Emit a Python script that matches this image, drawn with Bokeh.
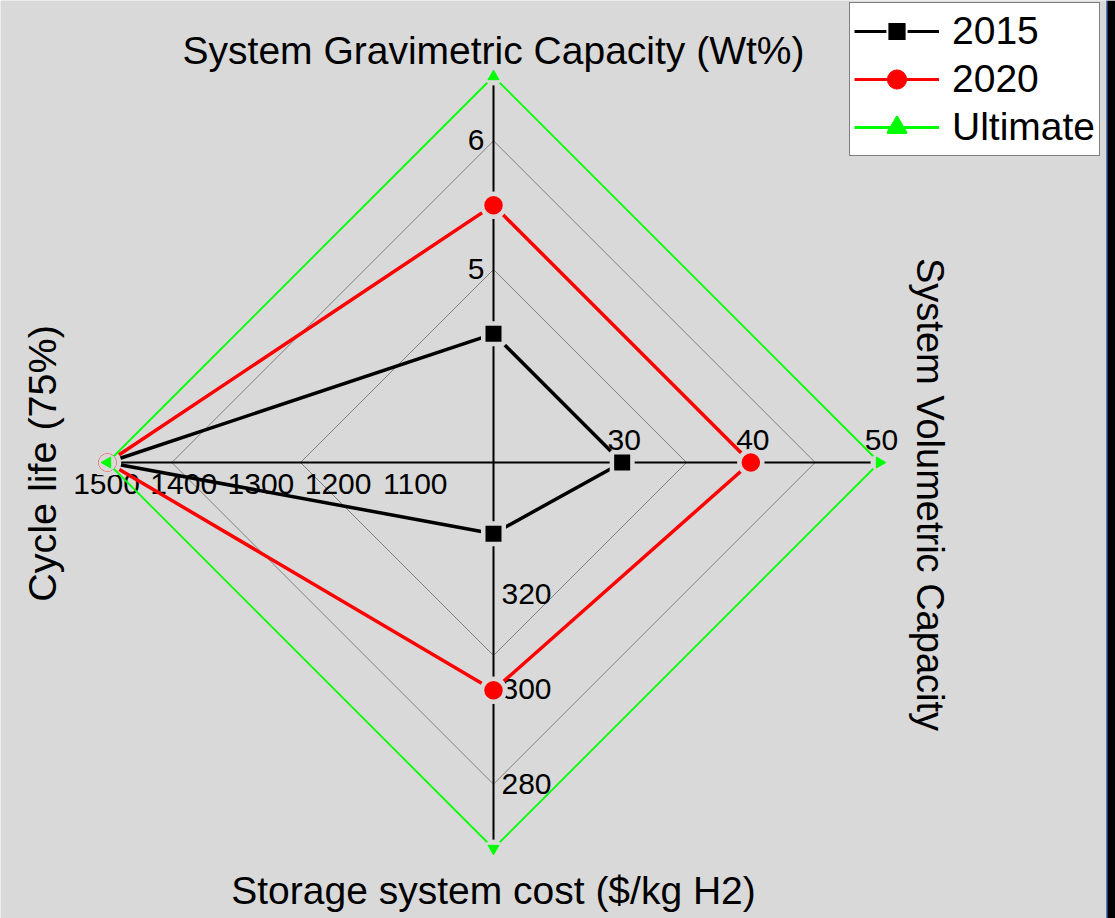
import numpy as np
from bokeh.plotting import figure
from bokeh.models import Range1d, Label, Legend, LegendItem, ColumnDataSource, BoxAnnotation
from bokeh.core.properties import value
from bokeh.embed import file_html
from bokeh.resources import INLINE

# ---------------- data ----------------
axis_titles = ["System Gravimetric Capacity (Wt%)", "System Volumetric Capacity",
               "Storage system cost ($/kg H2)", "Cycle life (75%)"]
axis_start = [3.5, 20, 348, 1000]        # value at the centre of each spoke
axis_end = [6.5, 50, 266.67, 1500]       # value at the rim of each spoke
axis_ticks = [[5, 6], [30, 40, 50], [320, 300, 280], [1100, 1200, 1300, 1400, 1500]]

series_names = ["2015", "2020", "Ultimate"]
values_2015 = [4.5, 30, 333, 1500]
values_2020 = [5.5, 40, 300, 1500]
values_ultimate = [6.5, 50, 266.67, 1500]

# ---------------- layout / style ----------------
W, H = 1115, 918
CX, CY = 493, 462          # centre of the radar in page pixels
R = 386                    # spoke length in pixels
BG = "#D9D9D9"
FONT = "Liberation Sans"
spoke_angles = [np.pi / 2, 0.0, -np.pi / 2, np.pi]

def radius(i, v):
    return (v - axis_start[i]) / (axis_end[i] - axis_start[i]) * R

def to_xy(vals):
    xs, ys = [], []
    for i, v in enumerate(vals):
        r = radius(i, v)
        xs.append(r * np.cos(spoke_angles[i]))
        ys.append(r * np.sin(spoke_angles[i]))
    return xs, ys

p = figure(width=W, height=H, output_backend="svg", toolbar_location=None,
           x_range=Range1d(-CX, W - CX), y_range=Range1d(-(H - CY), CY),
           min_border=0, outline_line_color=None)
p.axis.visible = False
p.grid.visible = False
p.background_fill_color = BG
p.border_fill_color = BG

# grid rings at the ticks of the first spoke
for t in axis_ticks[0]:
    frac = (t - axis_start[0]) / (axis_end[0] - axis_start[0])
    xs = [frac * R * np.cos(a) for a in spoke_angles] + [frac * R * np.cos(spoke_angles[0])]
    ys = [frac * R * np.sin(a) for a in spoke_angles] + [frac * R * np.sin(spoke_angles[0])]
    p.line(xs, ys, line_color="#808080", line_width=1)

# spokes
p.segment(x0=[0] * 4, y0=[0] * 4,
          x1=[R * np.cos(a) for a in spoke_angles], y1=[R * np.sin(a) for a in spoke_angles],
          line_color="black", line_width=2)

# tick labels
tx, ty, tt, ta, tb = [], [], [], [], []
for i, ticks in enumerate(axis_ticks):
    for t in ticks:
        r = radius(i, t)
        if i == 0:
            tx.append(-9); ty.append(r + 1); ta.append("right"); tb.append("middle")
        elif i == 1:
            tx.append(r + 2); ty.append(13); ta.append("center"); tb.append("bottom")
        elif i == 2:
            tx.append(8); ty.append(-r + 1); ta.append("left"); tb.append("middle")
        else:
            tx.append(-r - 1); ty.append(-11); ta.append("center"); tb.append("top")
        tt.append(str(t))
p.text(x=tx, y=ty, text=tt, text_align=ta, text_baseline=tb,
       text_font=value(FONT), text_font_size="30px", text_color="black")

# series
styles = [
    dict(color="black", marker="square", size=20.5, lw=3.5, halo=4.5, halo_size=None,
         leg_size=None, leg_line="white", leg_lw=2),
    dict(color="#FF0000", marker="circle", size=23, lw=3.5, halo=4.5, halo_size=None,
         leg_size=None, leg_line="#FF0000", leg_lw=1),
    dict(color="#00FF00", marker="triangle", size=11, lw=1.8, halo=0, halo_size=18,
         leg_size=None, leg_line="#00FF00", leg_lw=2),
]
legend_items = []
for name, vals, st in zip(series_names, [values_2015, values_2020, values_ultimate], styles):
    xs, ys = to_xy(vals)
    p.line(xs + [xs[0]], ys + [ys[0]], line_color=st["color"], line_width=st["lw"])
    ang = [a - np.pi / 2 for a in spoke_angles]
    src = ColumnDataSource(dict(x=xs, y=ys, ang=ang))
    if st["halo_size"]:
        # background coloured disc that opens a gap in the lines around the marker
        p.scatter("x", "y", source=src, marker="circle", size=st["halo_size"],
                  fill_color=BG, line_color=None)
        p.scatter("x", "y", source=src, marker=st["marker"], size=st["size"], angle="ang",
                  fill_color=st["color"], line_color=st["color"], line_width=1)
    else:
        p.scatter("x", "y", source=src, marker=st["marker"], size=st["size"], angle="ang",
                  fill_color=st["color"], line_color=BG, line_width=st["halo"])
    # legend proxies (nothing drawn in the plot)
    proxy = ColumnDataSource(dict(x=[np.nan], y=[np.nan]))
    lr = p.line("x", "y", source=proxy, line_color=st["color"], line_width=3)
    sr = p.scatter("x", "y", source=proxy, marker=st["marker"], size=20,
                   fill_color=st["color"], line_color=st["leg_line"], line_width=st["leg_lw"])
    legend_items.append(LegendItem(label=name, renderers=[lr, sr]))

legend = Legend(items=legend_items, location=(849, H - 156),
                glyph_width=85, glyph_height=48, label_height=48, spacing=0, padding=4,
                margin=0, label_standoff=13,
                label_text_font=FONT, label_text_font_size="39px", label_text_color="black",
                background_fill_color="white", background_fill_alpha=1,
                border_line_color="black", border_line_width=1)
p.add_layout(legend, "center")

# axis titles
title_pos = [(0, 412, 0, "39px"), (436, -32, -np.pi / 2, "38px"),
             (0, -428, 0, "39px"), (-452, -1, np.pi / 2, "39.5px")]
for txt, (x, y, a, fs) in zip(axis_titles, title_pos):
    p.add_layout(Label(x=x, y=y, text=txt, angle=a, text_align="center", text_baseline="middle",
                       text_font=FONT, text_font_size=fs, text_color="black"))

# dark window edge at the right of the picture
p.add_layout(BoxAnnotation(left=W - 9, right=W, left_units="screen", right_units="screen",
                           fill_color="black", fill_alpha=1, line_color=None))
p.add_layout(BoxAnnotation(left=W - 9.5, right=W - 8, left_units="screen", right_units="screen",
                           fill_color="#5B7DB5", fill_alpha=1, line_color=None))

open("out.html", "w").write(file_html(p, INLINE))
